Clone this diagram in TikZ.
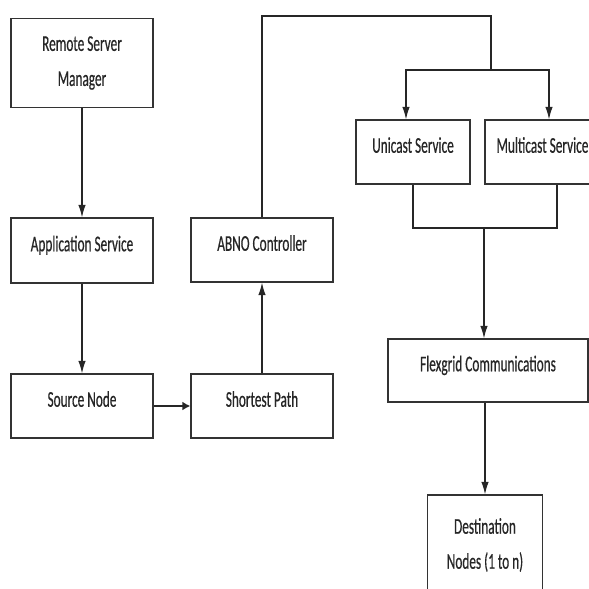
\documentclass[tikz,border=0pt]{standalone}
\usepackage{fontspec}
\newfontfamily\boxfont{Carlito}[FakeStretch=0.59, FakeBold=0.5]
\usetikzlibrary{arrows.meta}

\begin{document}
\begin{tikzpicture}[x=1pt, y=-1pt,
    box/.style={draw=black!80, line width=1.3pt, inner sep=0pt, minimum width=142pt,
        minimum height=65pt, text=black!85, font={\boxfont\fontsize{22.5}{35}\selectfont}},
    oneline/.style={text height=11pt, text depth=9.5pt},
    twoline/.style={align=center},
    link/.style={draw=black!85, line width=1.2pt},
    arr/.style={link, -{Latex[length=12.5pt,width=7.5pt]}},
    sidearr/.style={link, line width=2pt, -{Latex[length=8pt,width=9pt]}}]
\clip (0,0) rectangle (589,589);

\node[box, twoline, minimum height=89pt] (rsm) at (82, 63) {Remote Server\\Manager};
\node[box, oneline] (app) at (82, 250.5) {Application Service};
\node[box, oneline, minimum height=64pt] (src) at (82, 406) {Source Node};
\node[box, oneline, minimum height=64pt] (sp) at (262, 406) {Shortest Path};
\node[box, oneline, minimum height=64pt] (abno) at (262, 250) {ABNO Controller};
\node[box, oneline, minimum width=114pt, minimum height=64pt] (uni) at (413, 152) {Unicast Service};
\node[box, oneline, minimum width=115pt, minimum height=64pt] (multi) at (542.5, 152) {Multicast Service};
\node[box, oneline, minimum width=200pt, minimum height=63pt] (flex) at (488, 370.5) {Flexgrid Communications};
\node[box, twoline, minimum width=115pt, minimum height=100pt] (dest) at (485, 545) {Destination\\Nodes (1 to n)};

\coordinate (top) at (491, 16);    % loop over the top
\coordinate (split) at (491, 70);  % fork to the services
\coordinate (join) at (484, 228);  % services merge

\draw[arr] (rsm) -- (app);
\draw[arr] (app) -- (src);
\draw[sidearr] (src) -- (sp);
\draw[arr] (sp) -- (abno);
\draw[link] (abno.north) |- (top) -- (split);
\draw[arr] (split) -| ([xshift=-7pt]uni.north);
\draw[arr] (split) -| ([xshift=6.5pt]multi.north);
\draw[link] (uni.south) |- (join) -| ([xshift=14.5pt]multi.south);
\draw[arr] (join) -- (join |- flex.north);
\draw[arr] (dest.north |- flex.south) -- (dest.north);

\end{tikzpicture}
\end{document}
